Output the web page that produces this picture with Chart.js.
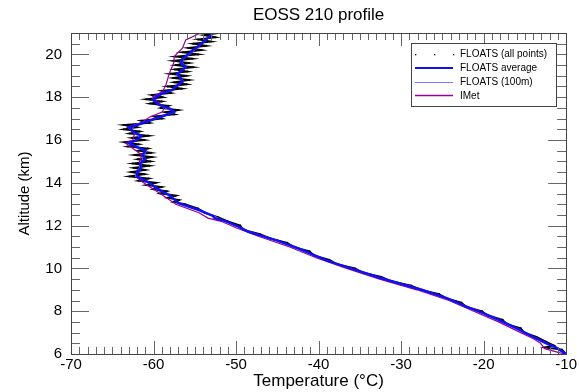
<!DOCTYPE html>
<html>
<head>
<meta charset="utf-8">
<script src="https://cdn.jsdelivr.net/npm/chart.js@4/dist/chart.umd.min.js"></script>
<style>
body { margin: 0; background: #fff; }
#wrap { width: 579px; height: 392px; }
</style>
</head>
<body>
<div id="wrap"><canvas id="profileChart" width="579" height="392"></canvas></div>
<script>
// tick labels
const tempTicks = [-70, -60, -50, -40, -30, -20, -10];
const altTicks = [6, 8, 10, 12, 14, 16, 18, 20];

// FLOATS (all points): raw samples, km / degC
const floatsAlt = [
  6.0, 6.2, 6.3, 6.4, 6.6, 6.8, 7.0, 7.2, 7.4, 7.6, 7.8, 8.0, 8.2, 8.4, 8.6, 8.8,
  9.0, 9.2, 9.4, 9.6, 9.8, 10.0, 10.2, 10.4, 10.6, 10.8, 11.0, 11.2, 11.4, 11.6,
  11.8, 12.0, 12.2, 12.4, 12.6, 12.8,
  13.0, 13.1, 13.2, 13.3, 13.4, 13.5, 13.6, 13.7, 13.8, 13.9, 14.0, 14.1, 14.2,
  14.3, 14.4, 14.5, 14.6, 14.7, 14.8, 14.9, 15.0, 15.1, 15.2, 15.3, 15.4, 15.5,
  15.6, 15.7, 15.8, 15.9, 16.0, 16.1, 16.2, 16.3, 16.4, 16.5, 16.6, 16.7, 16.8,
  16.9, 17.0, 17.1, 17.2, 17.3, 17.4, 17.5, 17.6, 17.7, 17.8, 17.9, 18.0, 18.1,
  18.2, 18.3, 18.4, 18.5, 18.6, 18.7, 18.8, 18.9, 19.0, 19.1, 19.2, 19.3, 19.4,
  19.5, 19.6, 19.7, 19.8, 19.9, 20.0, 20.1, 20.2, 20.3, 20.4, 20.5, 20.6, 20.7,
  20.8, 20.9, 21.0
];
const floatsTemp = [
  -10.0, -10.5, -12.6, -11.5, -12.6, -13.6, -15.1, -15.5, -17.2, -17.7, -19.5, -20.2, -22.1, -22.7, -24.5, -25.4,
  -27.6, -28.8, -31.2, -32.4, -34.6, -35.6, -37.8, -38.7, -40.5, -41.1, -43.0, -43.8, -45.9, -47.1,
  -49.1, -49.5, -51.0, -52.2, -53.8, -54.6,
  -56.2, -57.6, -56.9, -58.3, -57.3, -59.2, -58.4, -60.0, -59.0, -60.9, -59.7, -61.8, -60.6,
  -62.9, -61.1, -62.7, -61.0, -62.4, -60.5, -62.5, -60.4, -61.9, -60.2, -62.3, -60.3, -61.8,
  -60.7, -63.1, -61.8, -63.5, -61.1, -62.6, -60.6, -62.9, -61.7, -63.6, -62.0, -63.6, -60.5,
  -61.5, -59.0, -59.9, -57.5, -58.6, -57.0, -59.1, -58.2, -60.4, -59.0, -60.9, -58.9, -60.2,
  -57.9, -59.0, -56.6, -58.3, -56.0, -57.5, -55.7, -57.6, -56.0, -58.0, -55.9, -57.4, -55.2,
  -57.3, -55.7, -57.6, -55.3, -57.3, -54.6, -56.5, -54.2, -55.8, -53.6, -55.2, -53.0, -54.6,
  -52.5, -53.9, -52.2
];

// FLOATS average
const avgAlt = [
  6.0, 6.3, 6.5, 6.8, 7.2, 7.6, 7.9, 8.2, 8.6, 9.0, 9.54, 10.0, 10.35, 10.94, 11.3,
  11.71, 11.95, 12.2, 12.35, 12.45, 12.73, 13.04, 13.43, 13.66, 14.0, 14.1, 14.3,
  14.5, 14.7, 14.9, 15.1, 15.3, 15.5, 15.7, 15.85, 16.0, 16.2, 16.4, 16.6, 16.7,
  16.9, 17.01, 17.17, 17.32, 17.48, 17.64, 17.87, 18.02, 18.18, 18.34, 18.49, 18.72,
  18.88, 19.1, 19.27, 19.42, 19.58, 19.8, 20.0, 20.2, 20.4, 20.6, 20.95
];
const avgTemp = [
  -10.0, -11.2, -12.4, -14.0, -16.0, -18.2, -20.0, -22.0, -24.4, -27.5, -32.4, -36.1, -38.9, -42.5, -45.0,
  -48.5, -49.7, -51.2, -52.6, -52.8, -54.5, -56.9, -58.1, -59.3, -60.5, -61.0, -62.0,
  -62.0, -61.5, -61.6, -61.0, -61.3, -61.0, -62.2, -63.0, -62.0, -61.5, -62.5, -63.0, -62.0,
  -60.5, -59.7, -58.5, -57.5, -58.1, -59.3, -60.1, -59.7, -58.9, -57.7, -57.3, -56.5,
  -56.7, -57.1, -56.5, -56.1, -56.7, -56.5, -55.8, -55.2, -54.5, -53.9, -52.9
];

// FLOATS (100m)
const hundredAlt = [
  6.0, 6.3, 6.5, 6.8, 7.2, 7.6, 8.0, 8.4, 8.8, 9.2, 9.6, 10.0, 10.4, 10.8, 11.2, 11.6,
  12.0, 12.3, 12.5, 12.8, 13.1, 13.4, 13.7, 14.0, 14.3, 14.6, 14.9, 15.2, 15.5, 15.8,
  16.1, 16.4, 16.7, 17.0, 17.3, 17.6, 17.9, 18.2, 18.5, 18.8, 19.1, 19.4, 19.7, 20.0,
  20.3, 20.6, 20.9, 21.0
];
const hundredTemp = [
  -10.1, -11.3, -12.3, -14.1, -15.9, -18.3, -20.6, -23.3, -25.8, -29.2, -32.8, -36.0, -39.3, -41.5, -44.4, -47.5,
  -50.1, -51.9, -52.9, -55.1, -57.2, -57.9, -59.6, -60.6, -62.2, -61.9, -61.4, -61.3, -60.8, -62.9,
  -61.6, -62.6, -62.4, -59.6, -57.4, -59.2, -60.2, -58.6, -57.1, -56.4, -57.2, -56.0, -56.7, -55.6,
  -54.7, -53.8, -52.9, -52.7
];

// IMet radiosonde
const imetAlt = [
  6.0, 6.1, 6.25, 6.5, 6.7, 7.0, 7.5, 8.0, 8.5, 9.0, 9.5, 10.0, 10.5, 11.0, 11.5, 11.9,
  12.2, 12.35, 12.6, 13.0, 13.4, 13.7, 14.0, 14.3, 14.6, 15.0, 15.3, 15.6, 15.85, 16.0,
  16.3, 16.6, 16.8, 17.06, 17.32, 17.56, 17.71, 18.02, 18.26, 18.57, 19.1, 19.66, 19.9,
  20.29, 20.67, 21.0
];
const imetTemp = [
  -10.2, -11.2, -12.6, -13.1, -13.9, -15.5, -18.2, -21.2, -24.2, -28.1, -32.6, -36.6, -40.3, -43.5, -47.3, -50.0,
  -51.8, -53.4, -54.5, -57.3, -58.8, -60.0, -61.2, -62.2, -61.6, -61.7, -61.4, -62.5, -63.4, -62.5,
  -62.3, -63.2, -61.5, -60.5, -58.9, -58.7, -59.3, -60.1, -58.9, -58.5, -58.1, -57.5, -57.5,
  -56.5, -56.1, -54.3
];

const FONT = "'Liberation Sans', Arial, Helvetica, sans-serif";

function pts(alts, temps){
    return alts.map((a, i) => ({ x: temps[i], y: a }));
}

// title centred over the plot area
const plotTitle = {
    id: 'plotTitle',
    afterDraw(chart){
        const { ctx, chartArea: a } = chart;
        ctx.save();
        ctx.fillStyle = '#000';
        ctx.font = '17px ' + FONT;
        ctx.textAlign = 'center';
        ctx.textBaseline = 'middle';
        ctx.fillText('EOSS 210 profile', (a.left + a.right) / 2, 15);
        ctx.restore();
    }
};

// inward ticks on all four sides plus the frame
const frameTicks = {
    id: 'frameTicks',
    afterDatasetsDraw(chart){
        const { ctx, chartArea: a, scales: { x, y } } = chart;
        ctx.save();
        ctx.lineWidth = 1;
        ctx.strokeStyle = '#666';
        ctx.beginPath();
        for (let t = -70; t <= -10; t++) {
            const px = Math.round(x.getPixelForValue(t)) + 0.5;
            const len = t % 10 === 0 ? 13 : 7;
            ctx.moveTo(px, a.bottom); ctx.lineTo(px, a.bottom - len);
            ctx.moveTo(px, a.top); ctx.lineTo(px, a.top + len);
        }
        for (let h = 6; h <= 21; h += 0.5) {
            const py = Math.round(y.getPixelForValue(h)) + 0.5;
            const len = h % 2 === 0 ? 18 : 9;
            ctx.moveTo(a.left, py); ctx.lineTo(a.left + len, py);
            ctx.moveTo(a.right, py); ctx.lineTo(a.right - len, py);
        }
        ctx.stroke();
        ctx.strokeStyle = '#444';
        ctx.strokeRect(Math.round(a.left) + 0.5, Math.round(a.top) + 0.5,
                       Math.round(a.right - a.left), Math.round(a.bottom - a.top));
        ctx.restore();
    }
};

// legend box in the top right corner of the plot
const boxLegend = {
    id: 'boxLegend',
    afterDraw(chart){
        const { ctx } = chart;
        const bx = 411, by = 43, bw = 145, bh = 63;
        ctx.save();
        ctx.fillStyle = '#fff';
        ctx.fillRect(bx, by, bw, bh);
        ctx.strokeStyle = '#444';
        ctx.lineWidth = 1;
        ctx.strokeRect(bx + 0.5, by + 0.5, bw, bh);

        const rows = [54, 68, 82, 95.5];
        const x0 = 415, x1 = 453;
        // all points: dots
        ctx.fillStyle = '#000';
        [x0, 434, x1].forEach(px => ctx.fillRect(px, rows[0], 1.3, 1.3));
        // average
        ctx.strokeStyle = '#1010f0'; ctx.lineWidth = 2;
        ctx.beginPath(); ctx.moveTo(x0, rows[1]); ctx.lineTo(x1, rows[1]); ctx.stroke();
        // 100 m
        ctx.strokeStyle = '#7878ff'; ctx.lineWidth = 1;
        ctx.beginPath(); ctx.moveTo(x0, rows[2] + 0.5); ctx.lineTo(x1, rows[2] + 0.5); ctx.stroke();
        // IMet
        ctx.strokeStyle = '#990099'; ctx.lineWidth = 1.5;
        ctx.beginPath(); ctx.moveTo(x0, rows[3]); ctx.lineTo(x1, rows[3]); ctx.stroke();

        ctx.fillStyle = '#000';
        ctx.font = '10px ' + FONT;
        ctx.textBaseline = 'middle';
        const labels = ['FLOATS (all points)', 'FLOATS average', 'FLOATS (100m)', 'IMet'];
        labels.forEach((s, i) => ctx.fillText(s, 460, rows[i] + 0.5));
        ctx.restore();
    }
};

const ctx = document.getElementById('profileChart').getContext('2d');
new Chart(ctx, {
    type: 'scatter',
    data: {
        datasets: [
            {
                label: 'FLOATS average',
                data: pts(avgAlt, avgTemp),
                showLine: true, borderColor: '#1010f0', borderWidth: 2.5,
                pointRadius: 0, order: 0
            },
            {
                label: 'FLOATS (100m)',
                data: pts(hundredAlt, hundredTemp),
                showLine: true, borderColor: '#7878ff', borderWidth: 1,
                pointRadius: 0, order: 1
            },
            {
                label: 'IMet',
                data: pts(imetAlt, imetTemp),
                showLine: true, borderColor: '#990099', borderWidth: 1.2,
                pointRadius: 0, order: 2
            },
            {
                label: 'FLOATS (all points)',
                data: pts(floatsAlt, floatsTemp),
                showLine: true, borderColor: '#000', borderWidth: 1.8,
                pointRadius: 1, pointBackgroundColor: '#000', pointBorderWidth: 0,
                order: 3
            }
        ]
    },
    options: {
        responsive: false,
        animation: false,
        layout: { padding: { left: 0, right: 9, top: 33, bottom: 0 } },
        plugins: {
            legend: { display: false },
            tooltip: { enabled: false },
            title: { display: false }
        },
        scales: {
            x: {
                type: 'linear', min: -70, max: -10,
                afterBuildTicks: s => { s.ticks = tempTicks.map(v => ({ value: v })); },
                afterFit: s => { s.height = 38; },
                grid: { display: false, drawTicks: false },
                border: { display: false },
                ticks: { color: '#000', padding: 2, maxRotation: 0, font: { family: FONT, size: 15 } },
                title: {
                    display: true, text: 'Temperature (°C)', color: '#000',
                    font: { family: FONT, size: 17 }, padding: { top: 0, bottom: 0 }
                }
            },
            y: {
                type: 'linear', min: 6, max: 21,
                afterBuildTicks: s => { s.ticks = altTicks.map(v => ({ value: v })); },
                afterFit: s => { s.width = 71; },
                grid: { display: false, drawTicks: false },
                border: { display: false },
                ticks: { color: '#000', padding: 9, font: { family: FONT, size: 15 } },
                title: {
                    display: true, text: 'Altitude (km)', color: '#000',
                    font: { family: FONT, size: 15 }, padding: { top: 16, bottom: 0 }
                }
            }
        }
    },
    plugins: [frameTicks, boxLegend, plotTitle]
});
</script>
</body>
</html>
